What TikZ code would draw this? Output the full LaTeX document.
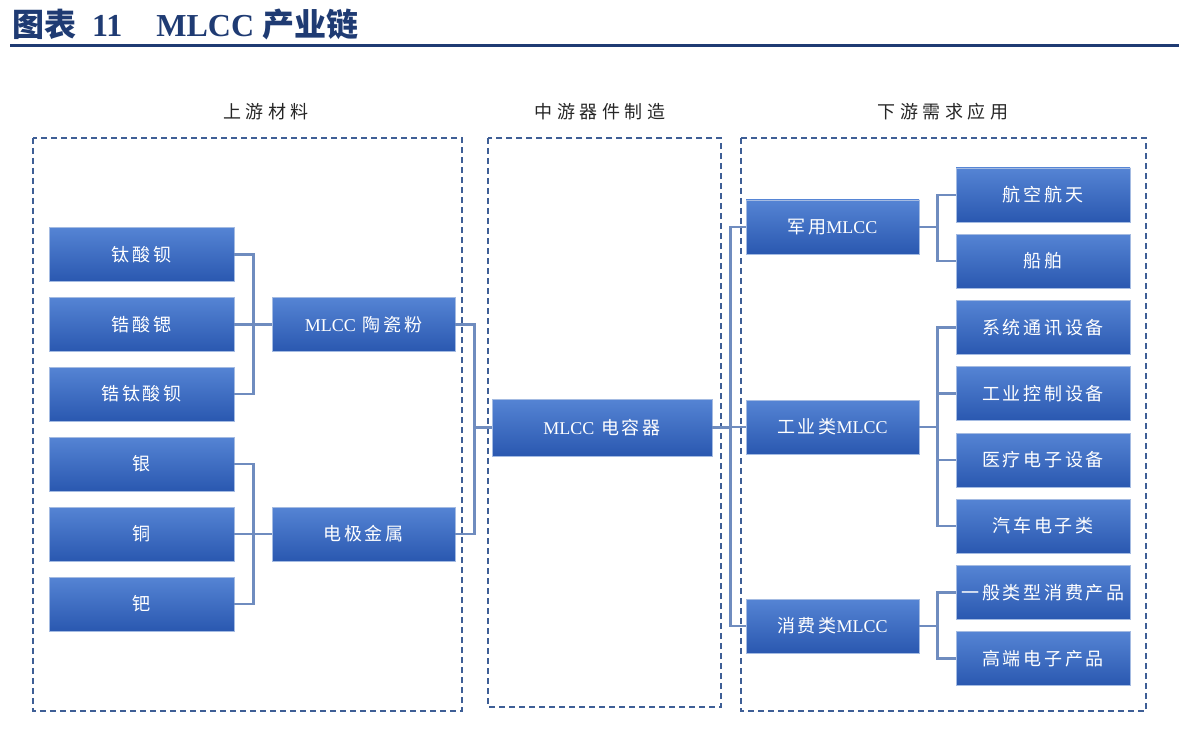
\documentclass[tikz,border=0pt]{standalone}
\usepackage{fontspec}
\setmainfont{Liberation Serif}
\newfontfamily\cjk[LetterSpace=15]{Noto Sans CJK SC}
\newfontfamily\cjkhead[LetterSpace=25]{Noto Sans CJK SC}
\newfontfamily\cjktitle{Noto Sans CJK SC Bold}
\definecolor{boxtop}{HTML}{5584D4}
\definecolor{boxbot}{HTML}{2A58B0}
\definecolor{boxline}{HTML}{A4BBE2}
\definecolor{linkc}{HTML}{6F8CBF}
\definecolor{frame}{HTML}{3E5E96}
\definecolor{titlec}{HTML}{1F3B73}
\newcommand\mlcc{{\rmfamily MLCC}}
\begin{document}
\begin{tikzpicture}[x=1pt,y=-1pt,
    item/.style={draw=boxline,line width=0.8pt,top color=boxtop,bottom color=boxbot,
      text=white,minimum height=54pt,inner sep=0pt,font=\fontsize{18}{20}\selectfont\cjk},
    src/.style={item,minimum width=185pt},
    mid/.style={item,minimum width=183pt},
    use/.style={item,minimum width=173pt},
    app/.style={item,minimum width=174pt},
    link/.style={draw=linkc,line width=2.2pt},
    zone/.style={draw=frame,line width=1.4pt,dash pattern=on 6pt off 4pt},
    head/.style={font=\fontsize{18}{20}\selectfont\cjkhead,text=black!85}]
    \useasboundingbox (0,0) rectangle (1179,741);
    % title
    \node[anchor=base west,inner sep=0pt,text=titlec,font=\fontsize{32}{36}\selectfont\bfseries] (title) at (12,37)
        {\cjktitle 图表\hspace{16pt}\rmfamily 11\hspace{34pt}MLCC\hspace{8pt}\cjktitle 产业链};
    \draw[titlec,line width=3pt] (10,46) -- (1179,46);
    % zones
    \draw[zone] (33,138) rectangle (462,711);
    \draw[zone] (488,138) rectangle (721,707);
    \draw[zone] (741,138) rectangle (1146,711);
    \node[head] (hup) at (266,112) {上游材料};
    \node[head] (hmid) at (600,112) {中游器件制造};
    \node[head] (hdown) at (943,112) {下游需求应用};
    % upstream
    \node[src] (raw1) at (141.5,254.5) {钛酸钡};
    \node[src] (raw2) at (141.5,324.5) {锆酸锶};
    \node[src] (raw3) at (141.5,394) {锆钛酸钡};
    \node[src] (raw4) at (141.5,464) {银};
    \node[src] (raw5) at (141.5,534) {铜};
    \node[src] (raw6) at (141.5,604) {钯};
    \node[mid] (powder) at (363.5,324.5) {\mlcc\ 陶瓷粉};
    \node[mid] (metal) at (363.5,534) {电极金属};
    % midstream
    \node[item,minimum width=220pt,minimum height=57pt] (cap) at (602,427.5) {\mlcc\ 电容器};
    % downstream
    \node[use] (mil) at (832.5,227) {军用\mlcc};
    \node[use] (ind) at (832.5,427) {工业类\mlcc};
    \node[use] (con) at (832.5,626) {消费类\mlcc};
    \node[app] (app1) at (1043,195) {航空航天};
    \node[app] (app2) at (1043,261) {船舶};
    \node[app] (app3) at (1043,327.5) {系统通讯设备};
    \node[app] (app4) at (1043,393.5) {工业控制设备};
    \node[app] (app5) at (1043,460) {医疗电子设备};
    \node[app] (app6) at (1043,526) {汽车电子类};
    \node[app] (app7) at (1043,592.5) {一般类型消费产品};
    \node[app] (app8) at (1043,658.5) {高端电子产品};
    % links
    \foreach \a in {raw1,raw2,raw3}
        \draw[link] (\a.east) -- ++(19,0) |- (powder.west);
    \foreach \a in {raw4,raw5,raw6}
        \draw[link] (\a.east) -- ++(19,0) |- (metal.west);
    \foreach \a in {powder,metal}
        \draw[link] (\a.east) -- ++(19,0) |- (cap.west);
    \foreach \a in {mil,ind,con}
        \draw[link] (cap.east) -- ++(18,0) |- (\a.west);
    \foreach \a in {app1,app2}
        \draw[link] (mil.east) -- ++(18,0) |- (\a.west);
    \foreach \a in {app3,app4,app5,app6}
        \draw[link] (ind.east) -- ++(18,0) |- (\a.west);
    \foreach \a in {app7,app8}
        \draw[link] (con.east) -- ++(18,0) |- (\a.west);
\end{tikzpicture}
\end{document}
